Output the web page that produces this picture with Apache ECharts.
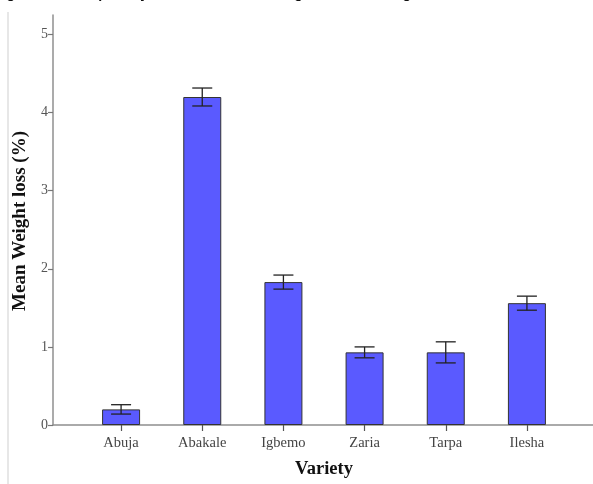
<!DOCTYPE html>
<html>
<head>
<meta charset="utf-8">
<script src="https://cdn.jsdelivr.net/npm/echarts@6/dist/echarts.min.js"></script>
<style>
  html, body { margin: 0; padding: 0; background: #fff; }
  #chart { width: 593px; height: 484px; }
</style>
</head>
<body>
<div id="chart"></div>
<script>
// Mean weight loss per variety, with the half-width of each error bar
const varieties = ['Abuja', 'Abakale', 'Igbemo', 'Zaria', 'Tarpa', 'Ilesha'];
const meanLoss = [0.20, 4.20, 1.83, 0.93, 0.93, 1.56];
const errHalf = [0.06, 0.115, 0.09, 0.07, 0.135, 0.09];
const yTicks = [0, 1, 2, 3, 4, 5];

const serif = '"Liberation Serif", "DejaVu Serif", serif';
const plotTop = 15, plotBottom = 59;

const errorData = varieties.map((v, i) => [i, meanLoss[i] - errHalf[i], meanLoss[i] + errHalf[i]]);

const chart = echarts.init(document.getElementById('chart'), null, { renderer: 'canvas' });
chart.setOption({
  animation: false,
  backgroundColor: '#ffffff',
  grid: [
    { left: 53, right: 0, top: plotTop, bottom: plotBottom },
    { left: 80.5, right: 25.5, top: plotTop, bottom: plotBottom }
  ],
  xAxis: [
    {
      gridIndex: 0, type: 'value', min: 0, max: 1,
      axisLine: { show: true, lineStyle: { color: '#8f8f8f', width: 1.5 } },
      axisTick: { show: false }, axisLabel: { show: false }, splitLine: { show: false }
    },
    {
      gridIndex: 1, type: 'category', data: varieties,
      axisLine: { show: false },
      axisTick: { show: true, alignWithLabel: true, length: 6, lineStyle: { color: '#555', width: 1.2 } },
      axisLabel: { show: true, margin: 11, fontFamily: serif, fontSize: 14.5, color: '#444' },
      splitLine: { show: false }
    }
  ],
  yAxis: [
    {
      gridIndex: 0, type: 'value', min: 0, max: 5.25,
      axisLine: { show: true, lineStyle: { color: '#8f8f8f', width: 1.5 } },
      axisTick: { show: true, length: 5, customValues: yTicks, lineStyle: { color: '#777', width: 1.2 } },
      axisLabel: { show: true, margin: 5, customValues: yTicks, fontFamily: serif, fontSize: 14, color: '#555' },
      splitLine: { show: false }
    },
    {
      gridIndex: 1, type: 'value', min: 0, max: 5.25, show: false
    }
  ],
  series: [
    {
      type: 'bar', xAxisIndex: 1, yAxisIndex: 1,
      data: meanLoss, barWidth: 38,
      itemStyle: { color: '#5a5aff', borderColor: '#333', borderWidth: 1 },
      z: 2
    },
    {
      type: 'custom', xAxisIndex: 1, yAxisIndex: 1,
      data: errorData,
      z: 3,
      renderItem: function (params, api) {
        const lo = api.coord([api.value(0), api.value(1)]);
        const hi = api.coord([api.value(0), api.value(2)]);
        const half = 10;
        const style = { stroke: '#222', lineWidth: 1.3 };
        return {
          type: 'group',
          children: [
            { type: 'line', shape: { x1: lo[0], y1: lo[1], x2: hi[0], y2: hi[1] }, style: style },
            { type: 'line', shape: { x1: hi[0] - half, y1: hi[1], x2: hi[0] + half, y2: hi[1] }, style: style },
            { type: 'line', shape: { x1: lo[0] - half, y1: lo[1], x2: lo[0] + half, y2: lo[1] }, style: style }
          ]
        };
      }
    }
  ],
  graphic: [
    {
      type: 'line', shape: { x1: 8, y1: 12, x2: 8, y2: 484 },
      style: { stroke: '#cfcfcf', lineWidth: 1 }, silent: true
    },
    {
      type: 'text', x: -6, y: -13,
      style: { text: 'Figure 4: Susceptibility of the varieties to weight loss in storage', font: 'bold 14px "Liberation Sans", Arial, sans-serif', fill: '#111' },
      silent: true
    },
    {
      type: 'text', x: 20, y: 221, rotation: Math.PI / 2,
      style: { text: 'Mean Weight loss (%)', font: 'bold 19px ' + serif, fill: '#111', align: 'center', verticalAlign: 'middle' },
      silent: true
    },
    {
      type: 'text', x: 324, y: 469,
      style: { text: 'Variety', font: 'bold 18.5px ' + serif, fill: '#111', align: 'center', verticalAlign: 'middle' },
      silent: true
    }
  ]
});
</script>
</body>
</html>
